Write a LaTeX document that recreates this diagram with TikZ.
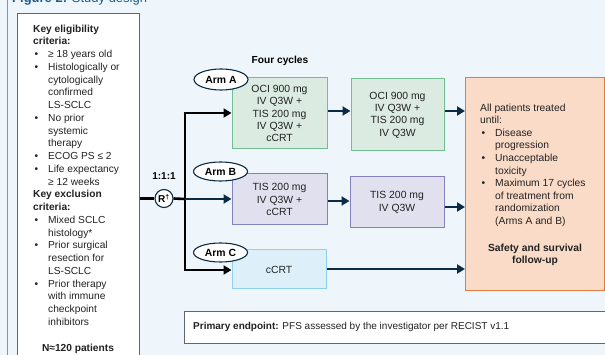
\documentclass[tikz,border=0pt]{standalone}
\usepackage{fontspec}
\setmainfont{Liberation Sans}
\usetikzlibrary{shapes.geometric,arrows.meta}
\definecolor{bgc}{HTML}{EEF6FB}
\definecolor{navy}{HTML}{0B2A44}
\definecolor{greyb}{HTML}{5F6870}
\definecolor{greyl}{HTML}{8A949C}
\definecolor{titleblue}{HTML}{1F5C8B}
\definecolor{gfill}{HTML}{DCEBE2}
\definecolor{gdraw}{HTML}{72BE93}
\definecolor{lfill}{HTML}{E1E0EE}
\definecolor{ldraw}{HTML}{8481BA}
\definecolor{bfill}{HTML}{DDF0FA}
\definecolor{bdraw}{HTML}{8ED0F0}
\definecolor{pfill}{HTML}{FADBC8}
\definecolor{pdraw}{HTML}{E07B41}
\definecolor{txt}{HTML}{222222}
\newcommand\bul{\makebox[15pt][l]{\hspace{1.5pt}•}}
\newcommand\ind{\hspace*{15pt}}
\tikzset{
  armbox/.style={draw, line width=1pt, minimum width=95pt, align=center, inner sep=0pt, text=txt,
    font=\fontsize{10.4}{12.4}\selectfont},
  armlabel/.style={ellipse, draw=navy, line width=1.1pt, fill=white, minimum width=54pt, minimum height=21pt,
    inner sep=0pt, font=\bfseries\fontsize{10.4}{12}\selectfont},
  navyarrow/.style={draw=navy, line width=2.6pt, -{Triangle[length=8pt,width=9pt]}},
  blkarrow/.style={draw=black, line width=2.6pt, -{Triangle[length=8pt,width=9pt]}},
  blkline/.style={draw=black, line width=2.6pt},
}
\begin{document}
\begin{tikzpicture}[x=1pt,y=-1pt]
\fill[bgc] (0,0) rectangle (605,355);
\useasboundingbox (0,0) rectangle (605,355);
% left border line
\coordinate (lt) at (7.5,0);
\coordinate (lb) at (7.5,355);
\draw[greyl, line width=1.4pt] (lt) -- (lb);
% title (cut off)
\node[anchor=base west, inner sep=0, text=titleblue, font=\fontsize{13}{15}\selectfont] (title) at (12,2.5) {\textbf{Figure 2:} Study design};
% left box
\node[draw=greyb, fill=white, line width=1.2pt, minimum width=122pt, minimum height=360pt, anchor=north west, inner sep=0] (eligbox) at (17,13) {};
\node[anchor=north west, inner sep=0, align=left, text=txt, font=\fontsize{10.2}{12.75}\selectfont] (eligtext) at (33,24.5) {%
\textbf{Key eligibility}\\
\textbf{criteria:}\\
\bul ≥ 18 years old\\
\bul Histologically or\\
\ind cytologically\\
\ind confirmed\\
\ind LS-SCLC\\
\bul No prior\\
\ind systemic\\
\ind therapy\\
\bul ECOG PS ≤ 2\\
\bul Life expectancy\\
\ind ≥ 12 weeks\\
\textbf{Key exclusion}\\
\textbf{criteria:}\\
\bul Mixed SCLC\\
\ind histology*\\
\bul Prior surgical\\
\ind resection for\\
\ind LS-SCLC\\
\bul Prior therapy\\
\ind with immune\\
\ind checkpoint\\
\ind inhibitors};
\node[anchor=base, inner sep=0, text=txt, font=\bfseries\fontsize{10.2}{12}\selectfont] (npat) at (78,351.5) {N≈120 patients};
% four cycles
\node[anchor=base, inner sep=0, font=\bfseries\fontsize{10.2}{12}\selectfont] (four) at (280,63.5) {Four cycles};
% randomization
\node[circle, draw=navy, line width=1.1pt, fill=white, minimum size=18pt, inner sep=0, font=\bfseries\fontsize{10}{12}\selectfont] (R) at (164,198.5) {R\textsuperscript{†}};
\node[anchor=base, inner sep=0, font=\bfseries\fontsize{10}{12}\selectfont] (ratio) at (164,180) {1:1:1};
% arm boxes
\node[armbox, fill=gfill, draw=gdraw, minimum height=71pt] (A1) at (279.5,113.5) {OCI 900 mg\\IV Q3W +\\TIS 200 mg\\IV Q3W +\\cCRT};
\node[armbox, fill=gfill, draw=gdraw, minimum height=72pt, minimum width=93pt] (A2) at (397.5,115) {OCI 900 mg\\IV Q3W +\\TIS 200 mg\\IV Q3W};
\node[armbox, fill=lfill, draw=ldraw, minimum height=51pt] (B1) at (279.5,199.5) {TIS 200 mg\\IV Q3W +\\cCRT};
\node[armbox, fill=lfill, draw=ldraw, minimum height=51pt, minimum width=94pt] (B2) at (397,202.5) {TIS 200 mg\\IV Q3W};
\node[armbox, fill=bfill, draw=bdraw, minimum height=39pt, minimum width=94pt] (C1) at (279,269.5) {cCRT};
% arm labels
\node[armlabel] (LA) at (221,79.5) {Arm A};
\node[armlabel, minimum height=19pt] (LB) at (220.5,171.5) {Arm B};
\node[armlabel, minimum height=19pt] (LC) at (220.5,252.5) {Arm C};
% right box
\node[draw=pdraw, fill=pfill, line width=1.3pt, minimum width=138.5pt, minimum height=213pt, anchor=north west, inner sep=0] (RB) at (465,77) {};
\node[anchor=north west, inner sep=0, align=left, text=txt, font=\fontsize{10.3}{12.6}\selectfont] (RBtext) at (480,103.5) {%
All patients treated\\
until:\\
\bul Disease\\
\ind progression\\
\bul Unacceptable\\
\ind toxicity\\
\bul Maximum 17 cycles\\
\ind of treatment from\\
\ind randomization\\
\ind (Arms A and B)};
\node[anchor=north, inner sep=0, align=center, text=txt, font=\bfseries\fontsize{10.3}{12.3}\selectfont] (safety) at (535,243.5) {Safety and survival\\follow-up};
% primary endpoint
\node[draw=greyb, fill=white, line width=1.3pt, minimum width=430pt, minimum height=32pt, anchor=north west, inner sep=0] (PE) at (184,311) {};
\node[anchor=west, inner sep=0, text=txt, font=\fontsize{10}{12}\selectfont] (PEtext) at (193,327) {\textbf{Primary endpoint:} PFS assessed by the investigator per RECIST v1.1};
% connectors
\coordinate (vA) at (185,113);
\coordinate (vB) at (185,199);
\coordinate (vC) at (185,270);
\draw[blkline] (eligbox.east |- R) -- (R.west);
\draw[blkline] (R.east) -- (vB);
\draw[blkline, line join=miter] (vA) -- (vC);
\draw[blkarrow] ([xshift=-1.3pt]vA) -- (A1.west |- vA);
\draw[navyarrow] (vB) -- (B1.west |- vB);
\draw[blkarrow] ([xshift=-1.3pt]vC) -- (C1.west |- vC);
\draw[navyarrow] (A1.east |- 0,111) -- (A2.west |- 0,111);
\draw[navyarrow] (A2.east |- 0,111) -- (RB.west |- 0,111);
\draw[navyarrow] (B1.east |- 0,201) -- (B2.west |- 0,201);
\draw[navyarrow] (B2.east |- 0,207) -- (RB.west |- 0,207);
\draw[navyarrow] (C1.east |- 0,269) -- (RB.west |- 0,269);
\end{tikzpicture}
\end{document}
